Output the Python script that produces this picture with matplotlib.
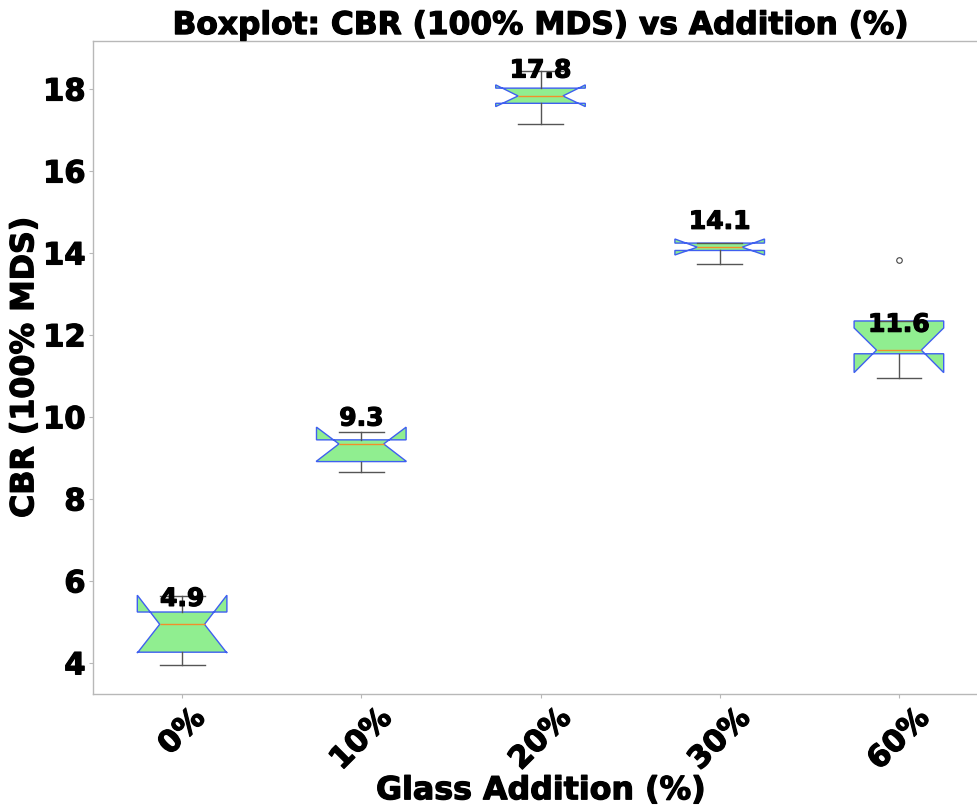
import matplotlib
matplotlib.use("Agg")
import matplotlib.pyplot as plt
import matplotlib.patheffects as pe

categories = ["0%", "10%", "20%", "30%", "60%"]
medians = [4.94, 9.34, 17.83, 14.14, 11.63]
q1 = [4.26, 8.91, 17.65, 14.06, 11.54]
q3 = [5.24, 9.44, 18.02, 14.24, 12.34]
whisker_low = [3.94, 8.65, 17.14, 13.73, 10.96]
whisker_high = [5.64, 9.64, 18.45, 14.24, 12.34]
ci_low = [4.24, 8.92, 17.57, 13.95, 11.08]
ci_high = [5.65, 9.75, 18.10, 14.34, 12.17]
fliers = [[], [], [], [], [13.83]]

stats = []
for i, name in enumerate(categories):
    stats.append(dict(label=name, med=medians[i], q1=q1[i], q3=q3[i],
                      whislo=whisker_low[i], whishi=whisker_high[i],
                      cilo=ci_low[i], cihi=ci_high[i], fliers=fliers[i]))

heavy = [pe.withStroke(linewidth=0.9, foreground="black")]

fig = plt.figure(figsize=(9.77, 8.08), dpi=100)
ax = fig.add_axes([92.5 / 977, 1 - 694 / 808, 896 / 977, (694 - 41) / 808])

ax.bxp(stats, positions=range(1, len(categories) + 1), widths=0.5,
       shownotches=True, patch_artist=True,
       boxprops=dict(facecolor="#90EE90", edgecolor="#3f5ff0", linewidth=1.0),
       medianprops=dict(color="#f28e2b", linewidth=1.0),
       whiskerprops=dict(color="#555555", linewidth=1.0),
       capprops=dict(color="#555555", linewidth=1.0),
       flierprops=dict(marker="o", markersize=4, markerfacecolor="none",
                       markeredgecolor="#444444", markeredgewidth=0.8))

for i, m in enumerate(medians):
    ax.text(i + 1, m + 0.62, f"{m:.1f}", ha="center", va="center",
            fontsize=18, fontweight="bold", color="black", path_effects=heavy)

ax.set_xlim(0.5, 5.5)
ax.set_ylim(3.24, 19.17)
ax.set_yticks([4, 6, 8, 10, 12, 14, 16, 18])
ax.set_xticks(range(1, len(categories) + 1))
ax.set_xticklabels(categories, rotation=45, fontsize=22, fontweight="bold")
for lab in ax.get_yticklabels() + ax.get_xticklabels():
    lab.set_fontsize(22)
    lab.set_fontweight("bold")
    lab.set_path_effects(heavy)

t = ax.set_title("Boxplot: CBR (100% MDS) vs Addition (%)", fontsize=22.5,
                 fontweight="bold", pad=5)
t.set_path_effects(heavy)
xl = ax.set_xlabel("Glass Addition (%)", fontsize=22.8, fontweight="bold", labelpad=0)
xl.set_path_effects(heavy)
yl = ax.set_ylabel("CBR (100% MDS)", fontsize=22.8, fontweight="bold", labelpad=2)
yl.set_path_effects(heavy)

for sp in ax.spines.values():
    sp.set_color("#b8b8b8")
    sp.set_linewidth(1.0)
ax.tick_params(axis="both", color="#b8b8b8", length=3, width=0.8)
ax.tick_params(axis="y", pad=2)

fig.savefig("out.png", dpi=100)
